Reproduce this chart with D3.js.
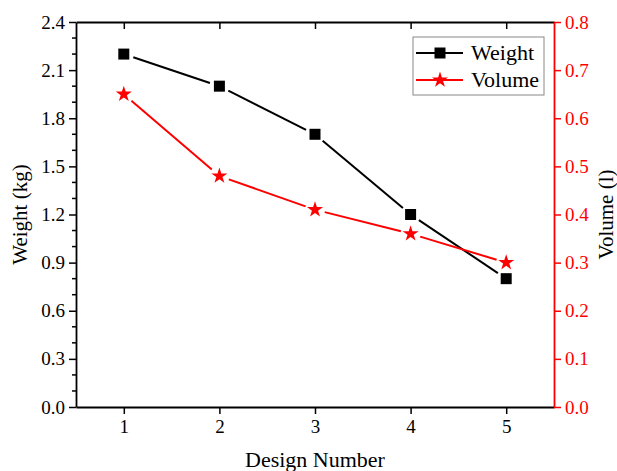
<!DOCTYPE html>
<meta charset="utf-8">
<style>
body { margin: 0; background: #fff; }
svg text { font-family: "Liberation Serif", "Times New Roman", serif !important; }
</style>
<svg width="617" height="471"></svg>
<script src="https://cdnjs.cloudflare.com/ajax/libs/d3/7.8.5/d3.min.js"></script>
<script>
var designs = [1, 2, 3, 4, 5];
var weight = [2.2, 2.0, 1.7, 1.2, 0.8];
var volume = [0.65, 0.48, 0.41, 0.36, 0.30];
var weightTicks = [0, 0.3, 0.6, 0.9, 1.2, 1.5, 1.8, 2.1, 2.4];
var volumeTicks = [0, 0.1, 0.2, 0.3, 0.4, 0.5, 0.6, 0.7, 0.8];

var svg = d3.select("svg"),
    margin = {top: 22, right: 63, bottom: 64, left: 76},
    width = +svg.attr("width") - margin.left - margin.right,
    height = +svg.attr("height") - margin.top - margin.bottom;

var g = svg.append("g").attr("transform", "translate(" + margin.left + "," + margin.top + ")");

var x = d3.scaleLinear().domain([0.5, 5.5]).range([0, width]);
var yL = d3.scaleLinear().domain([0, 2.4]).range([height, 0]);
var yR = d3.scaleLinear().domain([0, 0.8]).range([height, 0]);

// minor ticks on the left axis
var minor = d3.range(0, 2.41, 0.1).filter(function(v) { return Math.abs(Math.round(v / 0.3) * 0.3 - v) > 1e-6; });
g.append("g").selectAll("line").data(minor).enter().append("line")
    .attr("x1", -4).attr("x2", 0)
    .attr("y1", function(d) { return yL(d); }).attr("y2", function(d) { return yL(d); })
    .attr("stroke", "#000").attr("stroke-width", 1.5);

function styleAxis(sel, color) {
  sel.attr("font-family", null);
  sel.select(".domain").attr("stroke", color).attr("stroke-width", 1.8);
  sel.selectAll(".tick line").attr("stroke", color).attr("stroke-width", 1.5);
  sel.selectAll(".tick text").attr("fill", color).style("font-size", "19px");
}

var xAxis = g.append("g").attr("transform", "translate(0," + height + ")")
    .call(d3.axisBottom(x).tickValues(designs).tickFormat(d3.format("d")).tickSize(7).tickSizeOuter(0).tickPadding(6));
styleAxis(xAxis, "#000");

var xTop = g.append("g")
    .call(d3.axisBottom(x).tickValues(designs).tickSize(7).tickSizeOuter(0).tickFormat(""));
styleAxis(xTop, "#000");

var leftAxis = g.append("g")
    .call(d3.axisLeft(yL).tickValues(weightTicks).tickFormat(d3.format(".1f")).tickSize(7).tickSizeOuter(0).tickPadding(4));
styleAxis(leftAxis, "#000");

var rightAxis = g.append("g").attr("transform", "translate(" + width + ",0)")
    .call(d3.axisRight(yR).tickValues(volumeTicks).tickFormat(d3.format(".1f")).tickSize(7).tickSizeOuter(0).tickPadding(4));
styleAxis(rightAxis, "red");

// axis titles
g.append("text")
    .attr("x", width / 2).attr("y", height + 60)
    .attr("text-anchor", "middle").style("font-size", "22px")
    .text("Design Number");
g.append("text")
    .attr("transform", "translate(-49," + height / 2 + ") rotate(-90)")
    .attr("text-anchor", "middle").style("font-size", "21px")
    .text("Weight (kg)");
g.append("text")
    .attr("transform", "translate(" + (width + 59) + "," + height / 2 + ") rotate(-90)")
    .attr("text-anchor", "middle").style("font-size", "21px")
    .text("Volume (l)");

// lines with a gap around each marker
function gappedSegments(pts, gap) {
  var segs = [];
  for (var i = 0; i < pts.length - 1; i++) {
    var a = pts[i], b = pts[i + 1];
    var dx = b[0] - a[0], dy = b[1] - a[1], len = Math.sqrt(dx * dx + dy * dy);
    var ux = dx / len, uy = dy / len;
    segs.push([a[0] + ux * gap, a[1] + uy * gap, b[0] - ux * gap, b[1] - uy * gap]);
  }
  return segs;
}

var wPts = designs.map(function(d, i) { return [x(d), yL(weight[i])]; });
var vPts = designs.map(function(d, i) { return [x(d), yR(volume[i])]; });

g.append("g").selectAll("line").data(gappedSegments(wPts, 10)).enter().append("line")
    .attr("x1", function(d) { return d[0]; }).attr("y1", function(d) { return d[1]; })
    .attr("x2", function(d) { return d[2]; }).attr("y2", function(d) { return d[3]; })
    .attr("stroke", "#000").attr("stroke-width", 2);
g.append("g").selectAll("line").data(gappedSegments(vPts, 10)).enter().append("line")
    .attr("x1", function(d) { return d[0]; }).attr("y1", function(d) { return d[1]; })
    .attr("x2", function(d) { return d[2]; }).attr("y2", function(d) { return d[3]; })
    .attr("stroke", "red").attr("stroke-width", 2);

var square = d3.symbol().type(d3.symbolSquare).size(121);
var star = d3.symbol().type(d3.symbolStar).size(80);

g.append("g").selectAll("path").data(wPts).enter().append("path")
    .attr("d", square)
    .attr("transform", function(d) { return "translate(" + d[0] + "," + d[1] + ")"; })
    .attr("fill", "#000");
g.append("g").selectAll("path").data(vPts).enter().append("path")
    .attr("d", star)
    .attr("transform", function(d) { return "translate(" + d[0] + "," + d[1] + ")"; })
    .attr("fill", "red");

// legend
var legend = svg.append("g").attr("transform", "translate(413,37)");
legend.append("rect").attr("width", 131).attr("height", 58)
    .attr("fill", "#fff").attr("stroke", "#888").attr("stroke-width", 1);
var items = [{name: "Weight", color: "#000", sym: square}, {name: "Volume", color: "red", sym: star}];
var li = legend.selectAll("g.item").data(items).enter().append("g")
    .attr("transform", function(d, i) { return "translate(0," + (16 + i * 27) + ")"; });
li.append("line").attr("x1", 3).attr("x2", 50).attr("y1", 0).attr("y2", 0)
    .attr("stroke", function(d) { return d.color; }).attr("stroke-width", 2);
li.append("path").attr("d", function(d) { return d.sym(); })
    .attr("transform", "translate(27,0)")
    .attr("fill", function(d) { return d.color; });
li.append("text").attr("x", 58).attr("y", 7).style("font-size", "22px")
    .text(function(d) { return d.name; });
</script>
